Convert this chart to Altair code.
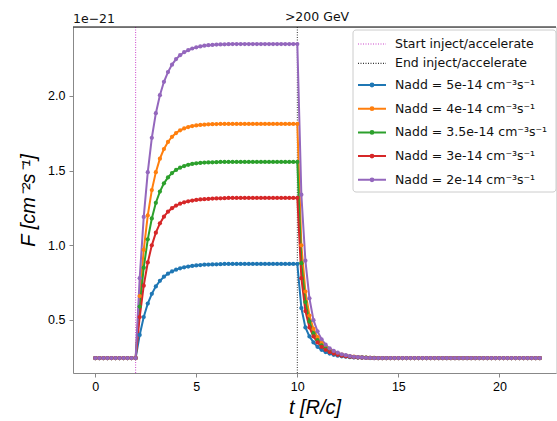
import altair as alt
import pandas as pd

# ---------------- data (flux in units of 1e-21) ----------------
t = [i / 5 for i in range(111)]          # time grid 0 .. 22 R/c, step 0.2
baseline = 0.245

labels = [
    "Nadd = 5e-14 cm⁻³s⁻¹",
    "Nadd = 4e-14 cm⁻³s⁻¹",
    "Nadd = 3.5e-14 cm⁻³s⁻¹",
    "Nadd = 3e-14 cm⁻³s⁻¹",
    "Nadd = 2e-14 cm⁻³s⁻¹",
]
colors = ["#1f77b4", "#ff7f0e", "#2ca02c", "#d62728", "#9467bd"]
plateaus = [0.875, 1.813, 1.558, 1.317, 2.348]

rise_blue = [0.40, 0.52, 0.61, 0.675, 0.725, 0.762, 0.79, 0.81, 0.825, 0.837, 0.846,
             0.853, 0.858, 0.862, 0.865, 0.868, 0.87, 0.871, 0.872, 0.873, 0.874]
rise_orange = [0.66, 0.97, 1.2, 1.37, 1.49, 1.58, 1.645, 1.692, 1.727, 1.752, 1.77,
               1.783, 1.792, 1.799, 1.803, 1.806, 1.808, 1.81, 1.811, 1.812]
rise_green = [0.59, 0.85, 1.04, 1.18, 1.285, 1.36, 1.415, 1.455, 1.484, 1.505, 1.52,
              1.531, 1.539, 1.545, 1.549, 1.552, 1.554, 1.555, 1.556, 1.557]
rise_red = [0.52, 0.73, 0.885, 1.0, 1.085, 1.147, 1.192, 1.225, 1.249, 1.266, 1.279,
            1.288, 1.295, 1.30, 1.304, 1.307, 1.309, 1.311, 1.313, 1.314, 1.315, 1.316]
rise_purple = [0.78, 1.19, 1.49, 1.72, 1.885, 2.005, 2.095, 2.16, 2.21, 2.247, 2.273,
               2.293, 2.307, 2.318, 2.326, 2.332, 2.337, 2.34, 2.342, 2.344, 2.345,
               2.346, 2.347]

decay_blue = [0.58, 0.45, 0.39, 0.35, 0.32, 0.30, 0.285, 0.275, 0.267, 0.261, 0.257,
              0.254, 0.251, 0.249, 0.248, 0.247, 0.246]
decay_orange = [1.0, 0.69, 0.53, 0.44, 0.385, 0.345, 0.32, 0.30, 0.286, 0.276, 0.268,
                0.262, 0.257, 0.254, 0.251, 0.25, 0.248, 0.247, 0.246]
decay_green = [0.88, 0.62, 0.49, 0.41, 0.365, 0.33, 0.31, 0.292, 0.28, 0.271, 0.264,
               0.259, 0.255, 0.252, 0.25, 0.249, 0.248, 0.247, 0.246]
decay_red = [0.78, 0.56, 0.45, 0.39, 0.35, 0.32, 0.30, 0.285, 0.275, 0.267, 0.261,
             0.257, 0.254, 0.251, 0.249, 0.248, 0.247, 0.246]
decay_purple = [1.339, 0.897, 0.645, 0.499, 0.424, 0.371, 0.335, 0.310, 0.293, 0.281,
                0.270, 0.264, 0.258, 0.253, 0.251, 0.249, 0.247, 0.246]

rises = [rise_blue, rise_orange, rise_green, rise_red, rise_purple]
decays = [decay_blue, decay_orange, decay_green, decay_red, decay_purple]

vline_t = [2, 10]
vline_labels = ["Start inject/accelerate", "End inject/accelerate"]
vline_colors = ["#cc44cc", "#333333"]

title_text = ">200 GeV"
offset_label = "1e−21"


def series(rise, plateau, decay):
    # 11 baseline points (t<=2), 40 points up to t=10, 60 points after
    return ([baseline] * 11 + rise + [plateau] * (40 - len(rise))
            + decay + [baseline] * (60 - len(decay)))


rows = []
for i, (lab, rise, pl, dec) in enumerate(zip(labels, rises, plateaus, decays)):
    vals = series(rise, pl, dec)
    for tt, v in zip(t, vals):
        rows.append({"t": tt, "F": v, "series": lab, "order": i})
df = pd.DataFrame(rows)
vdf = pd.DataFrame({"t": vline_t, "kind": vline_labels})

# ---------------- chart ----------------
W, H = 483, 346
FONT = "DejaVu Sans"
x_scale = alt.Scale(domain=[-1.1, 22.8], nice=False, zero=False)
y_scale = alt.Scale(domain=[0.145, 2.462], nice=False, zero=False)

x_axis = alt.Axis(values=[0, 5, 10, 15, 20], title="t [R/c]", titleFontSize=20,
                  titleFontStyle="italic", titleFontWeight="normal", grid=False,
                  labelFontSize=12.5, tickSize=4, labelPadding=3, titlePadding=5)
y_axis = alt.Axis(values=[0.5, 1.0, 1.5, 2.0], format=".1f", title="F [cm⁻²s⁻¹]",
                  titleFontSize=20, titleFontStyle="italic", titleFontWeight="normal",
                  grid=False, labelFontSize=12.5, tickSize=4, labelPadding=4,
                  titlePadding=9)

series_legend = alt.Legend(
    title=None, orient="none", legendX=291, legendY=50,
    symbolType="M-2,0L2,0M-0.2,0A0.2,0.2,0,1,1,0.2,0A0.2,0.2,0,1,1,-0.2,0",
    symbolSize=196, symbolStrokeWidth=2, labelFontSize=12.5, labelOffset=15,
    rowPadding=8.7, labelColor="#111", labelFont=FONT,
)
vline_legend = alt.Legend(
    title=None, orient="none", legendX=291, legendY=9,
    symbolType="M-2,0L2,0", symbolDash=[1, 1.5], symbolSize=196, symbolStrokeWidth=1.2,
    labelFontSize=12.5, labelOffset=15, rowPadding=4.4, labelColor="#111", labelFont=FONT,
)

color_series = alt.Color("series:N", scale=alt.Scale(domain=labels, range=colors),
                         legend=series_legend)

lines = alt.Chart(df).mark_line(strokeWidth=2).encode(
    x=alt.X("t:Q", scale=x_scale, axis=x_axis),
    y=alt.Y("F:Q", scale=y_scale, axis=y_axis),
    color=color_series,
    order="t:Q",
)
points = alt.Chart(df).mark_point(filled=True, size=18, opacity=1).encode(
    x=alt.X("t:Q", scale=x_scale, axis=x_axis),
    y=alt.Y("F:Q", scale=y_scale, axis=y_axis),
    color=color_series,
    order="order:Q",
)
series_layer = alt.layer(lines, points)

vlines = alt.Chart(vdf).mark_rule(strokeDash=[1, 1.5], strokeWidth=1).encode(
    x=alt.X("t:Q", scale=x_scale, axis=x_axis),
    color=alt.Color("kind:N", scale=alt.Scale(domain=vline_labels, range=vline_colors),
                    legend=vline_legend),
)

one = alt.Data(values=[{}])
legend_box = alt.Chart(one).mark_rect(
    fill="white", fillOpacity=0.8, stroke="#cccccc", strokeWidth=1, cornerRadius=3
).encode(x=alt.value(280), x2=alt.value(483), y=alt.value(3), y2=alt.value(165))

offset_text = alt.Chart(one).mark_text(
    text=offset_label, align="left", baseline="alphabetic", fontSize=12.5, font=FONT,
    color="#111"
).encode(x=alt.value(0), y=alt.value(-4))

title_mark = alt.Chart(one).mark_text(
    text=title_text, align="center", baseline="alphabetic", fontSize=12.5, font=FONT,
    color="#111"
).encode(x=alt.value(244), y=alt.value(-6))

top_border = alt.Chart(one).mark_rule(color="black", strokeWidth=1).encode(
    x=alt.value(0), x2=alt.value(W), y=alt.value(0)
)

chart = alt.layer(
    vlines, series_layer, legend_box, offset_text, title_mark, top_border
).resolve_scale(
    color="independent"
).properties(
    width=W, height=H,
    autosize=alt.AutoSizeParams(type="none"),
    padding={"left": 73, "top": 27, "right": 1, "bottom": 48},
).configure_view(stroke=None).configure_axis(
    domainColor="black", tickColor="black", labelColor="#222", titleColor="#111",
    labelFont=FONT, titleFont=FONT, grid=False, domainWidth=1,
).configure(background="white")

chart.save("out.html", embed_options={"renderer": "svg", "actions": False})
